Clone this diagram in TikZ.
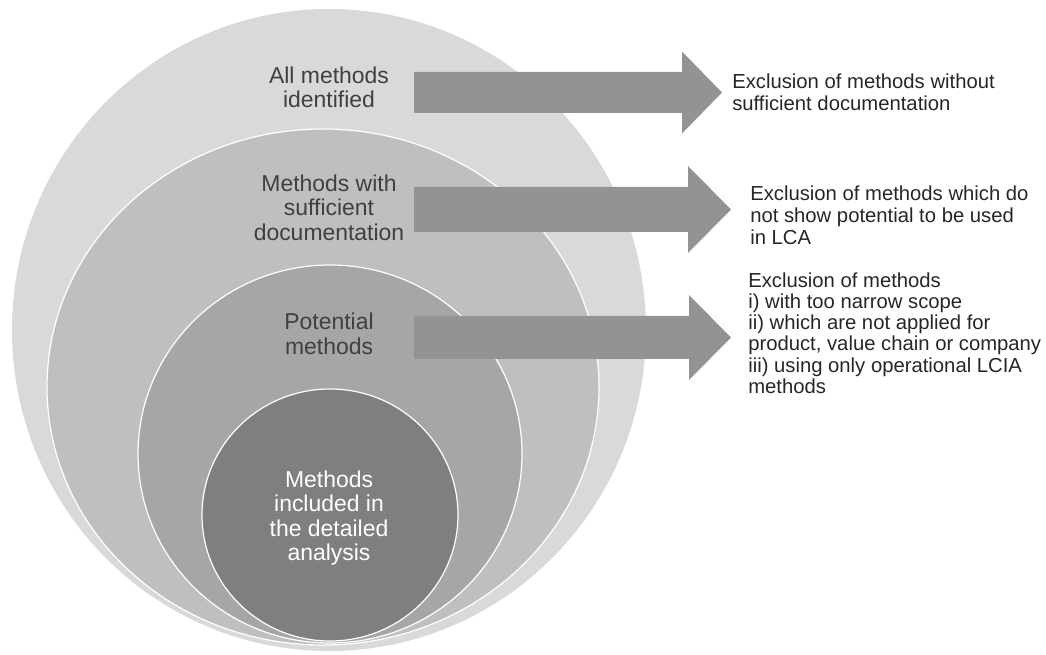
\documentclass[tikz,border=0pt]{standalone}
\usepackage{fontspec}
\setmainfont{Liberation Sans}
\definecolor{ringa}{HTML}{D9D9D9}
\definecolor{ringb}{HTML}{BFBFBF}
\definecolor{ringc}{HTML}{A6A6A6}
\definecolor{ringd}{HTML}{7F7F7F}
\definecolor{arrowgray}{HTML}{939393}
\definecolor{labelgray}{HTML}{404040}
\definecolor{textgray}{HTML}{262626}

\begin{document}
\begin{tikzpicture}
[x=0.75pt,y=-0.75pt,%
  every node/.style={inner sep=0pt,align=center},%
  ring/.style={draw=white,line width=0.9pt},%
  circlabel/.style={text=labelgray,font=\fontsize{17.2}{18.4}\selectfont},%
  excl/.style={anchor=west,align=left,text=textgray,font=\fontsize{15.2}{16.5}\selectfont},%
  blockarrow/.style={fill=arrowgray}]
\useasboundingbox (0,0) rectangle (1046,655);
% nested sets
\fill[ringa] (329,330) ellipse (317 and 321);
\filldraw[ring,fill=ringb] (323,387) ellipse (276 and 258);
\filldraw[ring,fill=ringc] (330,454) ellipse (192 and 189);
\filldraw[ring,fill=ringd] (330,515) ellipse (128 and 126);
% labels
\node[circlabel] (all) at (329,87.5) {All methods\\identified};
\node[circlabel] (documented) at (329,207.5) {Methods with\\sufficient\\documentation};
\node[circlabel] (potential) at (329,334) {Potential\\methods};
\node[circlabel,text=white] (included) at (329,518)
  {Methods\\included in\\the detailed\\analysis};
% exclusion texts
\node[excl] (exclA) at (732,92) {Exclusion of methods without\\sufficient documentation};
\node[excl] (exclB) at (750,215) {Exclusion of methods which do\\not show potential to be used\\in LCA};
\node[excl,font=\fontsize{15.2}{15.9}\selectfont] (exclC) at (748,333)
  {Exclusion of methods\\i) with too narrow scope\\ii) which are not applied for\\product, value chain or company\\iii) using only operational LCIA\\methods};
% arrows
\coordinate (startA) at (414,92.5);
\coordinate (tipA) at (722,92.5);
\coordinate (startB) at (414,209.5);
\coordinate (tipB) at (731,209.5);
\coordinate (startC) at (414,337.5);
\coordinate (tipC) at (731,337.5);
\fill[blockarrow] (startA) ++(0,-20.5) -- ++(268,0) -- ++(0,-20.5) -- (tipA)
  -- ++(-40,41) -- ++(0,-20.5) -- ++(-268,0) -- cycle;
\fill[blockarrow] (startB) ++(0,-22.5) -- ++(274,0) -- ++(0,-21) -- (tipB)
  -- ++(-43,43.5) -- ++(0,-21) -- ++(-274,0) -- cycle;
\fill[blockarrow] (startC) ++(0,-21.5) -- ++(275,0) -- ++(0,-21) -- (tipC)
  -- ++(-42,42.5) -- ++(0,-21) -- ++(-275,0) -- cycle;
\end{tikzpicture}
\end{document}
